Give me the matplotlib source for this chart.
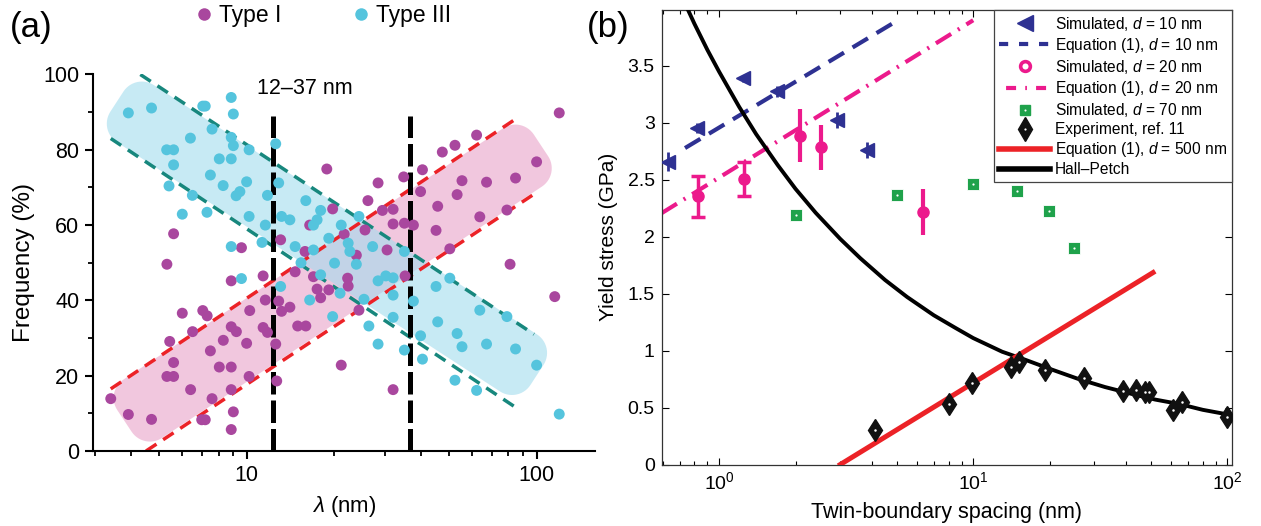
import matplotlib
matplotlib.use("Agg")
import matplotlib.pyplot as plt
import numpy as np
from matplotlib.lines import Line2D
from matplotlib.patches import Polygon
from matplotlib.ticker import LogLocator, NullFormatter, MultipleLocator

plt.rcParams['font.family'] = ['Liberation Sans', 'DejaVu Sans']
plt.rcParams['mathtext.fontset'] = 'custom'
plt.rcParams['mathtext.rm'] = 'Liberation Sans'
plt.rcParams['mathtext.it'] = 'Liberation Sans:italic'

# ---------------- panel (a) data ----------------
type1_x = [3.40, 3.91, 4.70, 5.31, 5.60, 5.43, 5.60, 5.31, 5.60, 6.00, 6.51, 6.41, 7.06, 7.31,
           7.0, 7.2, 7.5, 7.6, 8.05, 8.85, 8.31, 8.85, 9.22, 8.85, 9.0, 8.85, 8.85, 9.6, 10.0,
           10.25, 10.2, 11.4, 11.4, 11.6, 11.8, 12.7, 12.6, 13.1, 12.9, 13.2, 14.1, 14.7, 15.0,
           16.0, 16.5, 15.9, 17.0, 17.5, 18.0, 18.9, 19.8, 19.2, 21.2, 22.3, 22.4, 21.7, 23.9,
           24.4, 26.2, 28.4, 25.6, 29.4, 30.5, 32.0, 32.0, 32.0, 34.8, 35.0, 37.6, 35.2, 40.4,
           39.8, 45.6, 45.0, 47.3, 52.3, 50.2, 53.2, 55.3, 62.1, 67.2, 63.7, 81.0, 79.0, 84.6,
           100.0, 115.5, 119.7]
type1_y = [13.9, 9.7, 8.4, 49.6, 57.7, 29.1, 23.5, 19.8, 19.8, 36.6, 31.7, 16.3, 37.3, 35.9,
           8.3, 8.3, 26.6, 13.9, 22.3, 22.3, 29.4, 33.0, 31.7, 16.3, 10.4, 5.7, 45.2, 54.0, 28.6,
           37.3, 19.8, 46.5, 32.8, 40.1, 31.5, 18.6, 28.4, 56.1, 39.8, 37.1, 38.2, 47.6, 33.2,
           33.2, 60.0, 53.0, 46.3, 43.0, 40.7, 74.9, 64.3, 42.8, 22.8, 45.9, 43.8, 57.6, 52.0,
           37.4, 66.5, 71.2, 58.7, 63.9, 53.4, 60.3, 64.2, 16.3, 72.8, 60.5, 60.0, 46.5, 74.7,
           68.9, 65.0, 58.6, 79.4, 81.2, 53.7, 68.1, 71.8, 83.9, 71.4, 62.2, 49.6, 64.0, 72.5,
           76.8, 41.0, 89.8]

type3_x = [3.91, 4.70, 5.3, 5.6, 5.6, 5.4, 6.0, 6.4, 6.5, 7.06, 7.2, 7.6, 7.5, 7.3, 8.05, 8.85,
           8.3, 8.85, 9.0, 8.85, 9.0, 9.2, 9.48, 8.85, 10.2, 10.0, 10.2, 9.6, 11.3, 11.6, 11.8,
           12.6, 12.9, 13.2, 14.1, 13.1, 14.7, 16.0, 15.4, 16.5, 17.0, 17.5, 18.0, 17.0, 18.0,
           19.2, 19.8, 20.1, 21.2, 21.0, 22.4, 22.7, 24.4, 23.9, 25.4, 26.4, 27.2, 28.4, 28.4,
           30.2, 32.0, 32.0, 32.0, 35.0, 35.0, 37.6, 39.8, 40.4, 45.0, 45.6, 50.2, 52.3, 53.2,
           55.3, 62.1, 63.7, 67.2, 79.0, 84.6, 100.0, 119.7]
type3_y = [89.8, 91.1, 80.0, 80.0, 76.0, 70.4, 62.9, 83.1, 67.9, 91.6, 91.6, 85.5, 73.3, 63.4,
           77.6, 77.6, 70.5, 93.9, 89.5, 83.3, 81.1, 67.8, 68.9, 54.3, 80.0, 71.5, 62.3, 45.8,
           55.4, 60.0, 67.9, 81.6, 71.2, 62.3, 61.4, 43.7, 54.3, 66.5, 50.0, 40.1, 60.0, 61.4,
           63.9, 53.4, 46.8, 56.5, 35.7, 49.9, 60.0, 41.9, 55.2, 53.0, 62.3, 49.6, 40.3, 33.2,
           54.3, 28.4, 45.2, 46.5, 46.0, 41.4, 35.5, 26.8, 53.0, 39.8, 30.6, 24.4, 43.7, 34.3,
           45.9, 18.8, 31.2, 27.7, 16.1, 37.4, 28.4, 35.7, 27.1, 22.8, 9.8]

# guide lines (start, end) in data units
red_upper = ([3.4, 84], [16.5, 88])
red_lower = ([4.5, 97], [0, 68])
teal_upper = ([4.3, 98], [100, 31])
teal_lower = ([3.4, 85], [83, 11.5])
range_lines = [12.3, 36.6]
range_top = 89
# shaded band axes (end-cap centres)
pink_band = [(3.79, 8.0), (103.5, 81.2)]
cyan_band = [(3.57, 92.8), (100.3, 20.2)]

# ---------------- panel (b) data ----------------
sim10_x = [0.632, 0.817, 1.247, 1.687, 2.91, 3.815]
sim10_y = [2.66, 2.954, 3.39, 3.276, 3.027, 2.758]
sim10_err = [0.08, 0.04, 0.03, 0.05, 0.07, 0.07]
eq10_x = [0.735, 4.86]
eq10_y = [2.778, 3.877]

sim20_x = [0.829, 1.254, 2.08, 2.51, 6.37]
sim20_y = [2.353, 2.506, 2.887, 2.784, 2.216]
sim20_err = [0.18, 0.15, 0.23, 0.2, 0.2]
eq20_x = [0.595, 10.0]
eq20_y = [2.207, 3.9]

sim70_x = [2.01, 5.03, 10.0, 14.9, 19.96, 24.9]
sim70_y = [2.19, 2.368, 2.464, 2.40, 2.228, 1.899]

exp_x = [4.11, 8.02, 9.9, 14.1, 15.2, 19.2, 27.4, 38.8, 43.8, 47.3, 49.3, 61.2, 66.0, 100.0]
exp_y = [0.303, 0.532, 0.713, 0.854, 0.903, 0.83, 0.757, 0.646, 0.655, 0.64, 0.64, 0.479,
         0.552, 0.42]

eq500_x = [3.0, 51.0]
eq500_y = [0.0, 1.685]

hp_x = [0.7, 0.8, 0.9, 1.0, 1.2, 1.4, 1.7, 2.0, 2.4, 3.0, 3.6, 4.5, 5.5, 7, 8.5, 10, 13, 16,
        20, 26, 33, 42, 52, 65, 80, 100]
hp_y = [4.15, 3.87, 3.64, 3.45, 3.14, 2.90, 2.63, 2.42, 2.21, 1.98, 1.81, 1.62, 1.47, 1.31,
        1.20, 1.11, 0.99, 0.92, 0.84, 0.75, 0.68, 0.62, 0.57, 0.53, 0.48, 0.44]

b_yticks = [0, 0.5, 1, 1.5, 2, 2.5, 3, 3.5]
b_yticklabels = ['0', '0.5', '1', '1.5', '2', '2.5', '3', '3.5']

# colours
c_type1 = '#a9479e'
c_type3 = '#55c4dd'
c_red = '#ec2227'
c_teal = '#17877d'
c_navy = '#2e3192'
c_mag = '#ec1a8c'
c_green = '#1fa24b'

W, H = 1261, 526
fig = plt.figure(figsize=(W / 100, H / 100), dpi=100)
axa = fig.add_axes([93.3 / W, 75 / H, (595 - 93.3) / W, 376.5 / H])
axb = fig.add_axes([661.7 / W, 61.5 / H, 570 / W, 454.5 / H])

# ---------------- panel (a) ----------------
axa.set_xscale('log')
axa.set_xlim(2.96, 159)
axa.set_ylim(0, 100)


def band(ax, p0, p1, half, rad, color, alpha):
    a = ax.transData.transform(p0)
    b = ax.transData.transform(p1)
    L = np.linalg.norm(b - a)
    u = (b - a) / L
    n = np.array([-u[1], u[0]])
    pts = []
    for cs, ct, a0 in [(L - rad, -half + rad, -90), (L - rad, half - rad, 0),
                       (rad, half - rad, 90), (rad, -half + rad, 180)]:
        th = np.radians(np.linspace(a0, a0 + 90, 15))
        pts += [(cs + rad * np.cos(t), ct + rad * np.sin(t)) for t in th]
    pts = np.array(pts)
    disp = a + pts[:, :1] * u + pts[:, 1:] * n
    data = ax.transData.inverted().transform(disp)
    ax.add_patch(Polygon(data, closed=True, facecolor=color, alpha=alpha,
                         edgecolor='none', zorder=1))


band(axa, pink_band[0], pink_band[1], 35, 22, '#e9a3c8', 0.6)
band(axa, cyan_band[0], cyan_band[1], 34, 22, '#a3dcee', 0.6)

for xs, ys, col in [(red_upper[0], red_upper[1], c_red), (red_lower[0], red_lower[1], c_red),
                    (teal_upper[0], teal_upper[1], c_teal), (teal_lower[0], teal_lower[1], c_teal)]:
    axa.plot(xs, ys, color=col, lw=2.5, ls=(0, (3.6, 2.3)), zorder=2)

for xv in range_lines:
    axa.plot([xv, xv], [0, range_top], color='black', lw=3.6, ls=(0, (4.5, 1.2)), zorder=3)

axa.scatter(type1_x, type1_y, s=62, color=c_type1, edgecolors='none', zorder=4)
axa.scatter(type3_x, type3_y, s=62, color=c_type3, edgecolors='none', zorder=4)

axa.text(15.9, 96.3, '12–37 nm', fontsize=15.5, ha='center', va='center')

for side in ['top', 'right']:
    axa.spines[side].set_visible(False)
for side in ['left', 'bottom']:
    axa.spines[side].set_linewidth(1.5)
axa.set_xticks([10, 100])
axa.set_xticklabels(['10', '100'])
axa.xaxis.set_minor_locator(LogLocator(base=10, subs=np.arange(2, 10)))
axa.xaxis.set_minor_formatter(NullFormatter())
axa.set_yticks([0, 20, 40, 60, 80, 100])
axa.yaxis.set_minor_locator(MultipleLocator(10))
axa.tick_params(which='major', direction='out', length=6, width=1.5, labelsize=15.5, pad=4)
axa.tick_params(which='minor', direction='out', length=3.5, width=1.3)
axa.set_xlabel(r'$\it{\lambda}$ (nm)', fontsize=16, labelpad=6)
axa.set_ylabel('Frequency (%)', fontsize=17.5, labelpad=6)

leg_a = [Line2D([], [], ls='none', marker='o', ms=9, color=c_type1, mec='none'),
         Line2D([], [], ls='none', marker='o', ms=9, color=c_type3, mec='none')]
fig.legend(leg_a, ['Type I', 'Type III'], loc='center', bbox_to_anchor=(322 / W, 1 - 16 / H),
           ncol=2, frameon=False, fontsize=16.5, handletextpad=0.15, columnspacing=3.0,
           handlelength=1.0)

fig.text(10 / W, 1 - 28 / H, '(a)', fontsize=25, ha='left', va='center')
fig.text(587 / W, 1 - 28 / H, '(b)', fontsize=25, ha='left', va='center')

# ---------------- panel (b) ----------------
axb.set_xscale('log')
axb.set_xlim(0.595, 104)
axb.set_ylim(0, 3.99)

axb.plot(hp_x, hp_y, color='black', lw=2.8, zorder=3)
axb.plot(eq500_x, eq500_y, color=c_red, lw=3.6, zorder=3)
axb.plot(eq10_x, eq10_y, color=c_navy, lw=3.0, ls=(0, (4.3, 2.4)), zorder=2)
axb.plot(eq20_x, eq20_y, color=c_mag, lw=3.0, ls=(0, (4.3, 1.9, 0.5, 1.9)), zorder=2)

axb.errorbar(sim10_x, sim10_y, yerr=sim10_err, fmt='<', ms=10, color=c_navy, elinewidth=2,
             capsize=0, zorder=4)
axb.errorbar(sim20_x[:2], sim20_y[:2], yerr=sim20_err[:2], fmt='o', ms=8, color=c_mag,
             elinewidth=2.5, capsize=5, capthick=2.5, zorder=4)
axb.errorbar(sim20_x[2:], sim20_y[2:], yerr=sim20_err[2:], fmt='o', ms=8, color=c_mag,
             elinewidth=3, capsize=0, zorder=4)
axb.plot(sim70_x, sim70_y, ls='none', marker='s', ms=8.5, color=c_green, mec='white',
         mew=0.6, zorder=4)
axb.plot(sim70_x, sim70_y, ls='none', marker='o', ms=1.6, color='white', mec='none', zorder=5)
axb.plot(exp_x, exp_y, ls='none', marker='d', ms=11.5, color='#111111', mec='#111111', zorder=5)
axb.plot(exp_x, exp_y, ls='none', marker='o', ms=1.8, color='white', mec='none', zorder=6)

axb.set_yticks(b_yticks)
axb.set_yticklabels(b_yticklabels)
axb.xaxis.set_minor_locator(LogLocator(base=10, subs=np.arange(2, 10)))
axb.xaxis.set_minor_formatter(NullFormatter())
axb.tick_params(which='major', direction='in', length=5, width=0.8, labelsize=14,
                top=True, right=True, pad=5)
axb.tick_params(which='minor', direction='in', length=3, width=0.8, top=True)
for s in axb.spines.values():
    s.set_linewidth(0.9)
    s.set_color('#333333')
axb.set_xlabel('Twin-boundary spacing (nm)', fontsize=15.5, labelpad=6)
axb.set_ylabel('Yield stress (GPa)', fontsize=15)
axb.yaxis.set_label_coords((618 - 661.7) / 570, 0.5)

leg_b = [
    Line2D([], [], ls='none', marker='<', ms=11, color=c_navy),
    Line2D([], [], color=c_navy, lw=3.0, ls=(0, (2.2, 2.6))),
    Line2D([], [], ls='none', marker='o', ms=7, mfc='white', mec=c_mag, mew=2.6),
    Line2D([], [], color=c_mag, lw=3.0, ls=(0.9, (0.4, 2.2, 2.4, 2.2))),
    (Line2D([], [], ls='none', marker='s', ms=7.5, color=c_green),
     Line2D([], [], ls='none', marker='o', ms=1.5, color='white', mec='none')),
    (Line2D([], [], ls='none', marker='d', ms=12, color='#111111'),
     Line2D([], [], ls='none', marker='o', ms=1.6, color='white', mec='none')),
    Line2D([], [], color=c_red, lw=4),
    Line2D([], [], color='black', lw=4),
]
labels_b = [r'Simulated, $d$ = 10 nm', r'Equation (1), $d$ = 10 nm',
            r'Simulated, $d$ = 20 nm', r'Equation (1), $d$ = 20 nm',
            r'Simulated, $d$ = 70 nm', 'Experiment, ref. 11',
            r'Equation (1), $d$ = 500 nm', 'Hall–Petch']
lg = axb.legend(leg_b, labels_b, loc='upper right', borderaxespad=0, fontsize=11.2,
                handlelength=3.3, handletextpad=0.3, labelspacing=0.2, borderpad=0.3,
                fancybox=False, framealpha=1)
lg.get_frame().set_edgecolor('#444444')
lg.get_frame().set_linewidth(0.9)
lg.set_zorder(10)

fig.savefig('out.png', dpi=100)
